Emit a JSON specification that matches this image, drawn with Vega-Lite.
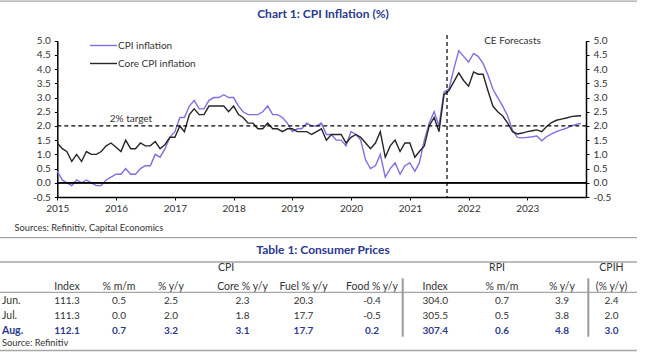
{
"$schema":"https://vega.github.io/schema/vega-lite/v6.json",
"width":659,"height":355,"autosize":{"type":"none"},"padding":0,"background":"#ffffff",
"config":{"view":{"stroke":null},"font":"Lato","axis":{"labelOverlap":false,"labelFlush":false,"labelFont":"Lato","titleFont":"Lato"}},
"datasets":{
"inflation":[
{"month":"2015-01","CPI inflation":0.4,"Core CPI inflation":1.4},
{"month":"2015-02","CPI inflation":0.1,"Core CPI inflation":1.2},
{"month":"2015-03","CPI inflation":0.0,"Core CPI inflation":1.1},
{"month":"2015-04","CPI inflation":-0.1,"Core CPI inflation":0.75},
{"month":"2015-05","CPI inflation":0.1,"Core CPI inflation":1.0},
{"month":"2015-06","CPI inflation":0.0,"Core CPI inflation":0.75},
{"month":"2015-07","CPI inflation":0.1,"Core CPI inflation":1.1},
{"month":"2015-08","CPI inflation":0.0,"Core CPI inflation":1.0},
{"month":"2015-09","CPI inflation":-0.1,"Core CPI inflation":1.0},
{"month":"2015-10","CPI inflation":-0.1,"Core CPI inflation":1.1},
{"month":"2015-11","CPI inflation":0.1,"Core CPI inflation":1.3},
{"month":"2015-12","CPI inflation":0.2,"Core CPI inflation":1.4},
{"month":"2016-01","CPI inflation":0.3,"Core CPI inflation":1.25},
{"month":"2016-02","CPI inflation":0.3,"Core CPI inflation":1.1},
{"month":"2016-03","CPI inflation":0.5,"Core CPI inflation":1.5},
{"month":"2016-04","CPI inflation":0.3,"Core CPI inflation":1.2},
{"month":"2016-05","CPI inflation":0.3,"Core CPI inflation":1.2},
{"month":"2016-06","CPI inflation":0.5,"Core CPI inflation":1.4},
{"month":"2016-07","CPI inflation":0.6,"Core CPI inflation":1.3},
{"month":"2016-08","CPI inflation":0.6,"Core CPI inflation":1.3},
{"month":"2016-09","CPI inflation":1.0,"Core CPI inflation":1.45},
{"month":"2016-10","CPI inflation":0.9,"Core CPI inflation":1.2},
{"month":"2016-11","CPI inflation":1.2,"Core CPI inflation":1.35},
{"month":"2016-12","CPI inflation":1.6,"Core CPI inflation":1.6},
{"month":"2017-01","CPI inflation":1.8,"Core CPI inflation":1.6},
{"month":"2017-02","CPI inflation":2.3,"Core CPI inflation":2.0},
{"month":"2017-03","CPI inflation":2.3,"Core CPI inflation":1.8},
{"month":"2017-04","CPI inflation":2.7,"Core CPI inflation":2.4},
{"month":"2017-05","CPI inflation":2.9,"Core CPI inflation":2.6},
{"month":"2017-06","CPI inflation":2.6,"Core CPI inflation":2.4},
{"month":"2017-07","CPI inflation":2.6,"Core CPI inflation":2.4},
{"month":"2017-08","CPI inflation":2.9,"Core CPI inflation":2.7},
{"month":"2017-09","CPI inflation":3.0,"Core CPI inflation":2.7},
{"month":"2017-10","CPI inflation":3.0,"Core CPI inflation":2.7},
{"month":"2017-11","CPI inflation":3.1,"Core CPI inflation":2.7},
{"month":"2017-12","CPI inflation":3.0,"Core CPI inflation":2.5},
{"month":"2018-01","CPI inflation":3.0,"Core CPI inflation":2.7},
{"month":"2018-02","CPI inflation":2.7,"Core CPI inflation":2.4},
{"month":"2018-03","CPI inflation":2.5,"Core CPI inflation":2.3},
{"month":"2018-04","CPI inflation":2.4,"Core CPI inflation":2.1},
{"month":"2018-05","CPI inflation":2.4,"Core CPI inflation":2.1},
{"month":"2018-06","CPI inflation":2.4,"Core CPI inflation":1.9},
{"month":"2018-07","CPI inflation":2.5,"Core CPI inflation":1.9},
{"month":"2018-08","CPI inflation":2.7,"Core CPI inflation":2.1},
{"month":"2018-09","CPI inflation":2.4,"Core CPI inflation":1.9},
{"month":"2018-10","CPI inflation":2.4,"Core CPI inflation":1.9},
{"month":"2018-11","CPI inflation":2.3,"Core CPI inflation":1.8},
{"month":"2018-12","CPI inflation":2.1,"Core CPI inflation":1.9},
{"month":"2019-01","CPI inflation":1.8,"Core CPI inflation":1.9},
{"month":"2019-02","CPI inflation":1.9,"Core CPI inflation":1.8},
{"month":"2019-03","CPI inflation":1.9,"Core CPI inflation":1.8},
{"month":"2019-04","CPI inflation":2.1,"Core CPI inflation":1.8},
{"month":"2019-05","CPI inflation":2.0,"Core CPI inflation":1.7},
{"month":"2019-06","CPI inflation":2.0,"Core CPI inflation":1.8},
{"month":"2019-07","CPI inflation":2.1,"Core CPI inflation":1.9},
{"month":"2019-08","CPI inflation":1.7,"Core CPI inflation":1.5},
{"month":"2019-09","CPI inflation":1.7,"Core CPI inflation":1.7},
{"month":"2019-10","CPI inflation":1.5,"Core CPI inflation":1.7},
{"month":"2019-11","CPI inflation":1.5,"Core CPI inflation":1.7},
{"month":"2019-12","CPI inflation":1.3,"Core CPI inflation":1.4},
{"month":"2020-01","CPI inflation":1.8,"Core CPI inflation":1.6},
{"month":"2020-02","CPI inflation":1.7,"Core CPI inflation":1.7},
{"month":"2020-03","CPI inflation":1.5,"Core CPI inflation":1.6},
{"month":"2020-04","CPI inflation":0.8,"Core CPI inflation":1.4},
{"month":"2020-05","CPI inflation":0.5,"Core CPI inflation":1.2},
{"month":"2020-06","CPI inflation":0.6,"Core CPI inflation":1.4},
{"month":"2020-07","CPI inflation":1.0,"Core CPI inflation":1.8},
{"month":"2020-08","CPI inflation":0.2,"Core CPI inflation":0.9},
{"month":"2020-09","CPI inflation":0.5,"Core CPI inflation":1.3},
{"month":"2020-10","CPI inflation":0.7,"Core CPI inflation":1.5},
{"month":"2020-11","CPI inflation":0.3,"Core CPI inflation":1.1},
{"month":"2020-12","CPI inflation":0.6,"Core CPI inflation":1.4},
{"month":"2021-01","CPI inflation":0.7,"Core CPI inflation":1.4},
{"month":"2021-02","CPI inflation":0.4,"Core CPI inflation":0.9},
{"month":"2021-03","CPI inflation":0.7,"Core CPI inflation":1.1},
{"month":"2021-04","CPI inflation":1.5,"Core CPI inflation":1.3},
{"month":"2021-05","CPI inflation":2.1,"Core CPI inflation":2.0},
{"month":"2021-06","CPI inflation":2.5,"Core CPI inflation":2.3},
{"month":"2021-07","CPI inflation":2.0,"Core CPI inflation":1.8},
{"month":"2021-08","CPI inflation":3.2,"Core CPI inflation":3.1},
{"month":"2021-09","CPI inflation":3.3,"Core CPI inflation":3.25},
{"month":"2021-10","CPI inflation":4.0,"Core CPI inflation":3.55},
{"month":"2021-11","CPI inflation":4.65,"Core CPI inflation":3.87},
{"month":"2021-12","CPI inflation":4.45,"Core CPI inflation":3.6},
{"month":"2022-01","CPI inflation":4.25,"Core CPI inflation":3.4},
{"month":"2022-02","CPI inflation":4.55,"Core CPI inflation":3.9},
{"month":"2022-03","CPI inflation":4.45,"Core CPI inflation":3.82},
{"month":"2022-04","CPI inflation":4.2,"Core CPI inflation":3.82},
{"month":"2022-05","CPI inflation":3.8,"Core CPI inflation":3.25},
{"month":"2022-06","CPI inflation":3.3,"Core CPI inflation":2.7},
{"month":"2022-07","CPI inflation":3.0,"Core CPI inflation":2.5},
{"month":"2022-08","CPI inflation":2.7,"Core CPI inflation":2.35},
{"month":"2022-09","CPI inflation":2.35,"Core CPI inflation":2.1},
{"month":"2022-10","CPI inflation":1.85,"Core CPI inflation":1.8},
{"month":"2022-11","CPI inflation":1.6,"Core CPI inflation":1.72},
{"month":"2022-12","CPI inflation":1.58,"Core CPI inflation":1.75},
{"month":"2023-01","CPI inflation":1.6,"Core CPI inflation":1.8},
{"month":"2023-02","CPI inflation":1.62,"Core CPI inflation":1.83},
{"month":"2023-03","CPI inflation":1.65,"Core CPI inflation":1.86},
{"month":"2023-04","CPI inflation":1.48,"Core CPI inflation":1.8},
{"month":"2023-05","CPI inflation":1.62,"Core CPI inflation":1.98},
{"month":"2023-06","CPI inflation":1.72,"Core CPI inflation":2.12},
{"month":"2023-07","CPI inflation":1.8,"Core CPI inflation":2.2},
{"month":"2023-08","CPI inflation":1.86,"Core CPI inflation":2.24},
{"month":"2023-09","CPI inflation":1.92,"Core CPI inflation":2.28},
{"month":"2023-10","CPI inflation":2.0,"Core CPI inflation":2.33},
{"month":"2023-11","CPI inflation":2.05,"Core CPI inflation":2.35},
{"month":"2023-12","CPI inflation":2.09,"Core CPI inflation":2.36}
],
"table":[
{"kind":"title","col":8,"line":1,"text":"Chart 1: CPI Inflation (%)"},
{"kind":"title","col":8,"line":3,"text":"Table 1: Consumer Prices"},
{"kind":"header","col":5,"line":5,"text":"CPI"},
{"kind":"header","col":12,"line":5,"text":"RPI"},
{"kind":"header","col":16,"line":5,"text":"CPIH"},
{"kind":"header","col":2,"line":7,"text":"Index"},
{"kind":"header","col":3,"line":7,"text":"% m/m"},
{"kind":"header","col":4,"line":7,"text":"% y/y"},
{"kind":"header","col":6,"line":7,"text":"Core % y/y"},
{"kind":"header","col":7,"line":7,"text":"Fuel % y/y"},
{"kind":"header","col":9,"line":7,"text":"Food % y/y"},
{"kind":"header","col":11,"line":7,"text":"Index"},
{"kind":"header","col":13,"line":7,"text":"% m/m"},
{"kind":"header","col":14,"line":7,"text":"% y/y"},
{"kind":"header","col":16,"line":7,"text":"(% y/y)"},
{"kind":"rowlabel","col":1,"line":9,"text":"Jun."},
{"kind":"value","col":2,"line":9,"text":"111.3"},
{"kind":"value","col":3,"line":9,"text":"0.5"},
{"kind":"value","col":4,"line":9,"text":"2.5"},
{"kind":"value","col":6,"line":9,"text":"2.3"},
{"kind":"value","col":7,"line":9,"text":"20.3"},
{"kind":"value","col":9,"line":9,"text":"-0.4"},
{"kind":"value","col":11,"line":9,"text":"304.0"},
{"kind":"value","col":13,"line":9,"text":"0.7"},
{"kind":"value","col":14,"line":9,"text":"3.9"},
{"kind":"value","col":16,"line":9,"text":"2.4"},
{"kind":"rowlabel","col":1,"line":10,"text":"Jul."},
{"kind":"value","col":2,"line":10,"text":"111.3"},
{"kind":"value","col":3,"line":10,"text":"0.0"},
{"kind":"value","col":4,"line":10,"text":"2.0"},
{"kind":"value","col":6,"line":10,"text":"1.8"},
{"kind":"value","col":7,"line":10,"text":"17.7"},
{"kind":"value","col":9,"line":10,"text":"-0.5"},
{"kind":"value","col":11,"line":10,"text":"305.5"},
{"kind":"value","col":13,"line":10,"text":"0.5"},
{"kind":"value","col":14,"line":10,"text":"3.8"},
{"kind":"value","col":16,"line":10,"text":"2.0"},
{"kind":"latestlabel","col":1,"line":11,"text":"Aug."},
{"kind":"latest","col":2,"line":11,"text":"112.1"},
{"kind":"latest","col":3,"line":11,"text":"0.7"},
{"kind":"latest","col":4,"line":11,"text":"3.2"},
{"kind":"latest","col":6,"line":11,"text":"3.1"},
{"kind":"latest","col":7,"line":11,"text":"17.7"},
{"kind":"latest","col":9,"line":11,"text":"0.2"},
{"kind":"latest","col":11,"line":11,"text":"307.4"},
{"kind":"latest","col":13,"line":11,"text":"0.6"},
{"kind":"latest","col":14,"line":11,"text":"4.8"},
{"kind":"latest","col":16,"line":11,"text":"3.0"},
{"kind":"source","col":1,"line":13,"text":"Source: Refinitiv"}
]
},
"resolve":{"scale":{"x":"independent","y":"independent"},"axis":{"x":"independent","y":"independent"}},
"layer":[
{"layer":[
 {"data":{"name":"inflation"},
  "transform":[{"fold":["CPI inflation","Core CPI inflation"],"as":["series","value"]}],
  "mark":{"type":"line","strokeWidth":1.4},
  "encoding":{
   "x":{"field":"month","type":"temporal",
        "scale":{"type":"utc","domain":[{"year":2015,"month":1,"date":1,"utc":true},{"year":2024,"month":1,"date":1,"utc":true}],"range":[57.3,586]},
        "axis":{"orient":"bottom","offset":-158,
                "values":[{"year":2015,"month":1,"date":1,"utc":true},{"year":2016,"month":1,"date":1,"utc":true},{"year":2017,"month":1,"date":1,"utc":true},{"year":2018,"month":1,"date":1,"utc":true},{"year":2019,"month":1,"date":1,"utc":true},{"year":2020,"month":1,"date":1,"utc":true},{"year":2021,"month":1,"date":1,"utc":true},{"year":2022,"month":1,"date":1,"utc":true},{"year":2023,"month":1,"date":1,"utc":true}],
                "format":"%Y","labelFontSize":10,"labelColor":"#333333","labelPadding":3,
                "tickSize":3,"tickColor":"#000000","domainColor":"#000000","domainWidth":1.5,"grid":false,
                "title":"Sources: Refinitiv, Capital Economics","titleFontSize":9.3,"titleFontWeight":"normal","titleColor":"#333333",
                "titleAnchor":"start","titleAlign":"left","titleBaseline":"middle","titleX":14,"titleY":30}},
   "y":{"field":"value","type":"quantitative",
        "scale":{"domain":[-0.5,5],"range":[197,40.7],"nice":false,"zero":false},"axis":null},
   "color":{"field":"series","type":"nominal",
            "scale":{"domain":["CPI inflation","Core CPI inflation"],"range":["#7d70e3","#262626"]},
            "legend":{"orient":"none","legendX":98,"legendY":40,"title":null,"symbolType":"M-3,0H3","symbolSize":81,"symbolStrokeWidth":1.4,
                      "labelFont":"Lato","labelFontSize":10,"labelColor":"#333333","rowPadding":7,"labelOffset":9,"padding":0}}
  }},
 {"data":{"values":[{"line":"target","from":"2015-01-01","to":"2024-01-01","level":2},{"line":"zero","from":"2015-01-01","to":"2024-01-01","level":0}]},
  "mark":{"type":"rule","color":"#000000","strokeWidth":1.3},
  "encoding":{
   "x":{"field":"from","type":"temporal","scale":{"type":"utc","domain":[{"year":2015,"month":1,"date":1,"utc":true},{"year":2024,"month":1,"date":1,"utc":true}],"range":[57.3,586]}},
   "x2":{"field":"to"},
   "y":{"field":"level","type":"quantitative","scale":{"domain":[-0.5,5],"range":[197,40.7],"nice":false,"zero":false},"axis":null},
   "strokeDash":{"field":"line","type":"nominal","scale":{"domain":["target","zero"],"range":[[4,3],[1,0]]},"legend":null}
  }},
 {"data":{"values":[{"month":"2021-08-20"}]},
  "mark":{"type":"rule","color":"#000000","strokeWidth":1.2,"strokeDash":[4,3]},
  "encoding":{
   "x":{"field":"month","type":"temporal","scale":{"type":"utc","domain":[{"year":2015,"month":1,"date":1,"utc":true},{"year":2024,"month":1,"date":1,"utc":true}],"range":[57.3,586]}},
   "y":{"datum":5.2,"type":"quantitative","scale":{"domain":[-0.5,5],"range":[197,40.7],"nice":false,"zero":false},"axis":null},
   "y2":{"datum":-0.5}
  }},
 {"data":{"values":[{"month":"2016-04-03","value":2.26,"label":"2% target"},{"month":"2022-10-01","value":4.99,"label":"CE Forecasts"}]},
  "mark":{"type":"text","font":"Lato","fontSize":10,"color":"#333333","align":"center","baseline":"middle"},
  "encoding":{
   "x":{"field":"month","type":"temporal","scale":{"type":"utc","domain":[{"year":2015,"month":1,"date":1,"utc":true},{"year":2024,"month":1,"date":1,"utc":true}],"range":[57.3,586]}},
   "y":{"field":"value","type":"quantitative","scale":{"domain":[-0.5,5],"range":[197,40.7],"nice":false,"zero":false},"axis":null},
   "text":{"field":"label"}
  }}
]},
{"data":{"values":[{"from":"2015-01-01","to":"2024-01-01","level":0}]},
 "mark":{"type":"rule","color":"#000000","strokeWidth":1.3},
 "encoding":{
  "x":{"field":"from","type":"temporal","scale":{"type":"utc","domain":[{"year":2015,"month":1,"date":1,"utc":true},{"year":2024,"month":1,"date":1,"utc":true}],"range":[57.3,586]},"axis":null},
  "x2":{"field":"to"},
  "y":{"field":"level","type":"quantitative","scale":{"domain":[-0.5,5],"range":[197,40.7],"nice":false,"zero":false},
       "axis":{"orient":"left","offset":-57.3,"values":[-0.5,0,0.5,1,1.5,2,2.5,3,3.5,4,4.5,5],"format":".1f",
               "labelExpr":"replace(datum.label,'\u2212','-')",
               "labelFontSize":10,"labelColor":"#333333","labelPadding":4,
               "tickSize":3,"tickColor":"#000000","domainColor":"#000000","domainWidth":1.5,"grid":false,"title":null}}
 }},
{"data":{"values":[{"from":"2015-01-01","to":"2024-01-01","level":0}]},
 "mark":{"type":"rule","color":"#000000","strokeWidth":1.3},
 "encoding":{
  "x":{"field":"from","type":"temporal","scale":{"type":"utc","domain":[{"year":2015,"month":1,"date":1,"utc":true},{"year":2024,"month":1,"date":1,"utc":true}],"range":[57.3,586]},"axis":null},
  "x2":{"field":"to"},
  "y":{"field":"level","type":"quantitative","scale":{"domain":[-0.5,5],"range":[197,40.7],"nice":false,"zero":false},
       "axis":{"orient":"right","offset":-73,"values":[-0.5,0,0.5,1,1.5,2,2.5,3,3.5,4,4.5,5],"format":".1f",
               "labelExpr":"replace(datum.label,'\u2212','-')",
               "labelFontSize":10,"labelColor":"#333333","labelPadding":4,
               "tickSize":3,"tickColor":"#000000","domainColor":"#000000","domainWidth":1.5,"grid":false,"title":null}}
 }},
{"data":{"name":"table"},
 "layer":[
  {"data":{"values":[{"line":0},{"line":2},{"line":4},{"line":8},{"line":14}]},
   "mark":{"type":"rule","color":"#a6a6a6","strokeWidth":1.3},
   "encoding":{
    "x":{"datum":0,"type":"quantitative","scale":{"domain":[0,1,2,3,4,5,6,7,8,9,10,11,12,13,14,15,16,17],"range":[0,2,67,119,171,226,242.5,303.5,323,372,402.7,435.2,497,502,562,588.3,611.5,637],"zero":false,"nice":false},"axis":null},
    "x2":{"datum":17},
    "y":{"field":"line","type":"quantitative","scale":{"domain":[0,1,2,3,4,5,6,7,8,9,10,11,12,13,14],"range":[1.2,14,237.7,250,262,268.3,278.3,286.7,292.3,300.7,316,331,336.7,343.3,350.5],"zero":false,"nice":false},"axis":null}
   }},
  {"data":{"values":[{"col":10},{"col":15}]},
   "mark":{"type":"rule","color":"#9a9a9a","strokeWidth":2},
   "encoding":{
    "x":{"field":"col","type":"quantitative","scale":{"domain":[0,1,2,3,4,5,6,7,8,9,10,11,12,13,14,15,16,17],"range":[0,2,67,119,171,226,242.5,303.5,323,372,402.7,435.2,497,502,562,588.3,611.5,637],"zero":false,"nice":false},"axis":null},
    "y":{"datum":6,"type":"quantitative","scale":{"domain":[0,1,2,3,4,5,6,7,8,9,10,11,12,13,14],"range":[1.2,14,237.7,250,262,268.3,278.3,286.7,292.3,300.7,316,331,336.7,343.3,350.5],"zero":false,"nice":false},"axis":null},
    "y2":{"datum":12}
   }},
  {"transform":[{"filter":"datum.kind === 'title'"}],
   "mark":{"type":"text","font":"Lato","fontSize":12,"fontWeight":"bold","color":"#2b3990","align":"center","baseline":"middle"},
   "encoding":{
    "x":{"field":"col","type":"quantitative","scale":{"domain":[0,1,2,3,4,5,6,7,8,9,10,11,12,13,14,15,16,17],"range":[0,2,67,119,171,226,242.5,303.5,323,372,402.7,435.2,497,502,562,588.3,611.5,637],"zero":false,"nice":false},"axis":null},
    "y":{"field":"line","type":"quantitative","scale":{"domain":[0,1,2,3,4,5,6,7,8,9,10,11,12,13,14],"range":[1.2,14,237.7,250,262,268.3,278.3,286.7,292.3,300.7,316,331,336.7,343.3,350.5],"zero":false,"nice":false},"axis":null},
    "text":{"field":"text"}
   }},
  {"transform":[{"filter":"datum.kind === 'header'"}],
   "mark":{"type":"text","font":"Lato","fontSize":10.5,"color":"#333333","align":"center","baseline":"middle"},
   "encoding":{
    "x":{"field":"col","type":"quantitative","scale":{"domain":[0,1,2,3,4,5,6,7,8,9,10,11,12,13,14,15,16,17],"range":[0,2,67,119,171,226,242.5,303.5,323,372,402.7,435.2,497,502,562,588.3,611.5,637],"zero":false,"nice":false},"axis":null},
    "y":{"field":"line","type":"quantitative","scale":{"domain":[0,1,2,3,4,5,6,7,8,9,10,11,12,13,14],"range":[1.2,14,237.7,250,262,268.3,278.3,286.7,292.3,300.7,316,331,336.7,343.3,350.5],"zero":false,"nice":false},"axis":null},
    "text":{"field":"text"}
   }},
  {"transform":[{"filter":"datum.kind === 'value'"}],
   "mark":{"type":"text","font":"Lato","fontSize":10,"color":"#333333","align":"center","baseline":"middle"},
   "encoding":{
    "x":{"field":"col","type":"quantitative","scale":{"domain":[0,1,2,3,4,5,6,7,8,9,10,11,12,13,14,15,16,17],"range":[0,2,67,119,171,226,242.5,303.5,323,372,402.7,435.2,497,502,562,588.3,611.5,637],"zero":false,"nice":false},"axis":null},
    "y":{"field":"line","type":"quantitative","scale":{"domain":[0,1,2,3,4,5,6,7,8,9,10,11,12,13,14],"range":[1.2,14,237.7,250,262,268.3,278.3,286.7,292.3,300.7,316,331,336.7,343.3,350.5],"zero":false,"nice":false},"axis":null},
    "text":{"field":"text"}
   }},
  {"transform":[{"filter":"datum.kind === 'latest'"}],
   "mark":{"type":"text","font":"Lato","fontSize":10,"fontWeight":"bold","color":"#2b3990","align":"center","baseline":"middle"},
   "encoding":{
    "x":{"field":"col","type":"quantitative","scale":{"domain":[0,1,2,3,4,5,6,7,8,9,10,11,12,13,14,15,16,17],"range":[0,2,67,119,171,226,242.5,303.5,323,372,402.7,435.2,497,502,562,588.3,611.5,637],"zero":false,"nice":false},"axis":null},
    "y":{"field":"line","type":"quantitative","scale":{"domain":[0,1,2,3,4,5,6,7,8,9,10,11,12,13,14],"range":[1.2,14,237.7,250,262,268.3,278.3,286.7,292.3,300.7,316,331,336.7,343.3,350.5],"zero":false,"nice":false},"axis":null},
    "text":{"field":"text"}
   }},
  {"transform":[{"filter":"datum.kind === 'rowlabel'"}],
   "mark":{"type":"text","font":"Lato","fontSize":10.5,"color":"#333333","align":"left","baseline":"middle"},
   "encoding":{
    "x":{"field":"col","type":"quantitative","scale":{"domain":[0,1,2,3,4,5,6,7,8,9,10,11,12,13,14,15,16,17],"range":[0,2,67,119,171,226,242.5,303.5,323,372,402.7,435.2,497,502,562,588.3,611.5,637],"zero":false,"nice":false},"axis":null},
    "y":{"field":"line","type":"quantitative","scale":{"domain":[0,1,2,3,4,5,6,7,8,9,10,11,12,13,14],"range":[1.2,14,237.7,250,262,268.3,278.3,286.7,292.3,300.7,316,331,336.7,343.3,350.5],"zero":false,"nice":false},"axis":null},
    "text":{"field":"text"}
   }},
  {"transform":[{"filter":"datum.kind === 'latestlabel'"}],
   "mark":{"type":"text","font":"Lato","fontSize":10.5,"fontWeight":"bold","color":"#2b3990","align":"left","baseline":"middle"},
   "encoding":{
    "x":{"field":"col","type":"quantitative","scale":{"domain":[0,1,2,3,4,5,6,7,8,9,10,11,12,13,14,15,16,17],"range":[0,2,67,119,171,226,242.5,303.5,323,372,402.7,435.2,497,502,562,588.3,611.5,637],"zero":false,"nice":false},"axis":null},
    "y":{"field":"line","type":"quantitative","scale":{"domain":[0,1,2,3,4,5,6,7,8,9,10,11,12,13,14],"range":[1.2,14,237.7,250,262,268.3,278.3,286.7,292.3,300.7,316,331,336.7,343.3,350.5],"zero":false,"nice":false},"axis":null},
    "text":{"field":"text"}
   }},
  {"transform":[{"filter":"datum.kind === 'source'"}],
   "mark":{"type":"text","font":"Lato","fontSize":9.3,"color":"#333333","align":"left","baseline":"middle"},
   "encoding":{
    "x":{"field":"col","type":"quantitative","scale":{"domain":[0,1,2,3,4,5,6,7,8,9,10,11,12,13,14,15,16,17],"range":[0,2,67,119,171,226,242.5,303.5,323,372,402.7,435.2,497,502,562,588.3,611.5,637],"zero":false,"nice":false},"axis":null},
    "y":{"field":"line","type":"quantitative","scale":{"domain":[0,1,2,3,4,5,6,7,8,9,10,11,12,13,14],"range":[1.2,14,237.7,250,262,268.3,278.3,286.7,292.3,300.7,316,331,336.7,343.3,350.5],"zero":false,"nice":false},"axis":null},
    "text":{"field":"text"}
   }}
 ]}
]
}
